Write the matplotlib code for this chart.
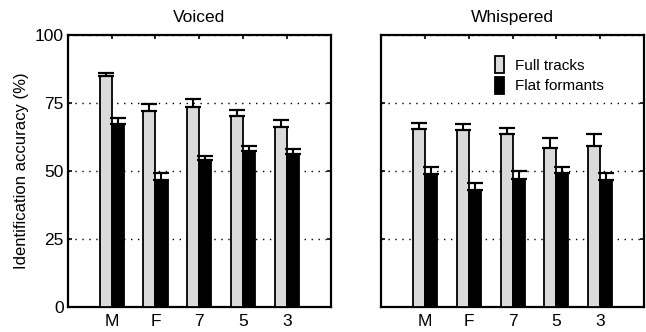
import numpy as np
import matplotlib.pyplot as plt

plt.rcParams['font.family'] = ['Liberation Sans', 'DejaVu Sans']

# Conditions along the x axis
conditions = ['M', 'F', '7', '5', '3']

# Identification accuracy (%) and upper error, voiced speech
voiced_full = [84.7, 71.8, 73.3, 70.1, 66.2]
voiced_full_err = [1.3, 2.7, 2.9, 2.2, 2.3]
voiced_flat = [67.3, 46.7, 54.2, 57.5, 56.3]
voiced_flat_err = [2.2, 2.6, 1.2, 1.7, 1.8]

# Identification accuracy (%) and upper error, whispered speech
whisper_full = [65.4, 65.1, 63.6, 58.6, 59.3]
whisper_full_err = [2.0, 2.2, 2.2, 3.5, 4.3]
whisper_flat = [48.9, 43.0, 47.1, 49.3, 46.7]
whisper_flat_err = [2.6, 2.6, 2.8, 2.2, 2.6]

y_ticks = [0, 25, 50, 75, 100]

GRAY = '#dadada'
W = 0.275


def draw_panel(ax, full, full_err, flat, flat_err, title):
    x = np.arange(1, len(conditions) + 1)
    ax.bar(x - W / 2, full, W, color=GRAY, edgecolor='black', linewidth=1.3,
           label='Full tracks', zorder=3)
    ax.bar(x + W / 2, flat, W, color='black', edgecolor='black', linewidth=1.3,
           label='Flat formants', zorder=3)
    # only the upper half of each error bar is shown
    ax.errorbar(x - W / 2, full, yerr=[np.zeros(len(full)), full_err],
                fmt='none', ecolor='black', elinewidth=1.5, capsize=5.5,
                capthick=1.6, zorder=4)
    ax.errorbar(x + W / 2, flat, yerr=[np.zeros(len(flat)), flat_err],
                fmt='none', ecolor='black', elinewidth=1.5, capsize=5.5,
                capthick=1.6, zorder=4)

    ax.set_xlim(0, 6)
    ax.set_ylim(0, 100)
    ax.set_xticks(x)
    ax.set_xticklabels(conditions)
    ax.set_yticks(y_ticks)
    ax.yaxis.grid(True, color='black', linestyle=(0, (1, 4)), linewidth=1.0)
    ax.set_axisbelow(True)
    ax.tick_params(direction='in', length=3, width=1.2, top=True, right=True,
                   labelsize=12.5, pad=3)
    ax.tick_params(axis='x', pad=5)
    for sp in ax.spines.values():
        sp.set_linewidth(1.6)
    ax.set_title(title, fontsize=12.5, pad=9)


fig = plt.figure(figsize=(6.46, 3.32), dpi=100)
ax1 = fig.add_axes([0.105, 0.074, 0.407, 0.822])
ax2 = fig.add_axes([0.590, 0.074, 0.407, 0.822])

draw_panel(ax1, voiced_full, voiced_full_err, voiced_flat, voiced_flat_err, 'Voiced')
draw_panel(ax2, whisper_full, whisper_full_err, whisper_flat, whisper_flat_err, 'Whispered')

ax1.set_ylabel('Identification accuracy (%)', fontsize=12, labelpad=4)
ax2.set_yticklabels([])

ax2.legend(loc='upper right', frameon=False, fontsize=11,
           handlelength=0.6, handleheight=1.3, handletextpad=0.7,
           labelspacing=0.25, bbox_to_anchor=(0.9, 0.97))

fig.savefig('out.png', dpi=100)
